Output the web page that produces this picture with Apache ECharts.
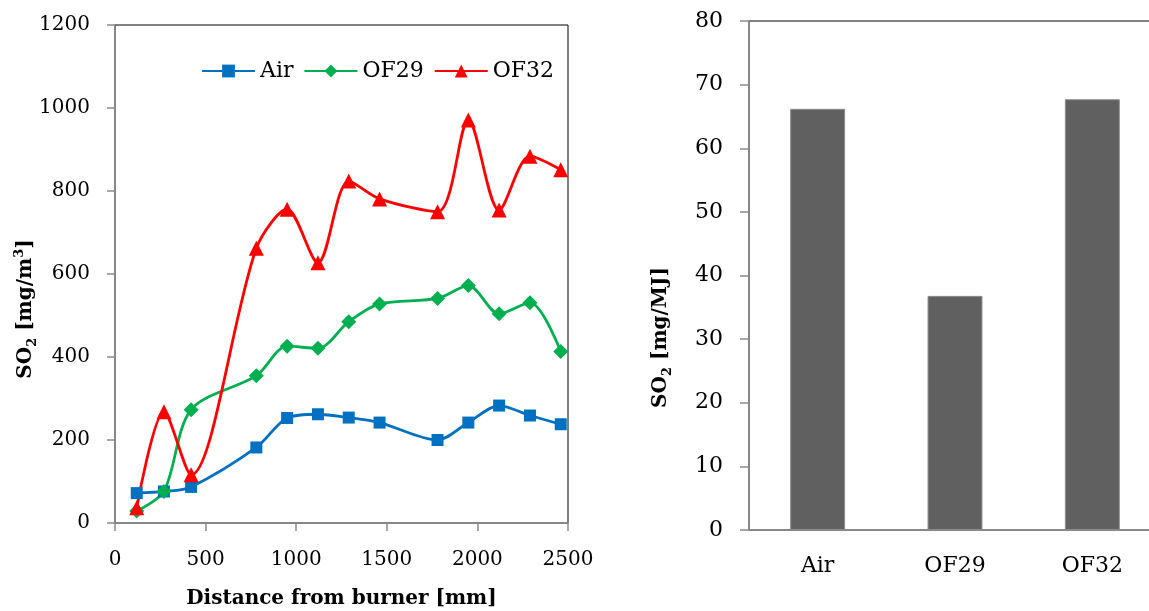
<!DOCTYPE html>
<html>
<head>
<meta charset="utf-8">
<script src="https://cdn.jsdelivr.net/npm/echarts@6/dist/echarts.min.js"></script>
<style>
html,body{margin:0;padding:0;background:#fff;}
#chart{width:1149px;height:611px;}
</style>
</head>
<body>
<div id="chart"></div>
<script>
// ---- data ----
var distances = [120, 270, 420, 780, 950, 1120, 1290, 1460, 1780, 1950, 2120, 2290, 2460];
var airSO2   = [72, 76, 87, 182, 253, 262, 254, 242, 200, 242, 283, 259, 238];
var of29SO2  = [29, 76, 273, 355, 426, 421, 485, 528, 541, 572, 504, 531, 413];
var of32SO2  = [37, 268, 116, 662, 756, 627, 824, 781, 750, 971, 754, 884, 851];
var seriesNames = ['Air', 'OF29', 'OF32'];
var barCategories = ['Air', 'OF29', 'OF32'];
var barValues = [66.2, 36.8, 67.7];

var FONT = 'DejaVu Serif';
var AXIS_GRAY = '#8a8a8a';

function pairs(xs, ys) { return xs.map(function (x, i) { return [x, ys[i]]; }); }
function plain(v) { return String(v); }

var chart = echarts.init(document.getElementById('chart'), null, {renderer: 'canvas'});

var lineCommon = {type: 'line', xAxisIndex: 0, yAxisIndex: 0, smooth: 0.3, lineStyle: {width: 2.8}};

var option = {
  animation: false,
  backgroundColor: '#fff',
  textStyle: {fontFamily: FONT},
  legend: {
    data: seriesNames,
    left: 196, top: 55,
    itemWidth: 53, itemHeight: 16, itemGap: 10,
    textStyle: {fontFamily: FONT, fontSize: 22, color: '#000'}
  },
  grid: [
    {left: 115, right: 581, top: 25, bottom: 88, containLabel: false, outerBoundsMode: 'none',
     show: true, borderColor: '#000', borderWidth: 1, backgroundColor: 'transparent'},
    {left: 749, right: -12, top: 21, bottom: 81, containLabel: false, outerBoundsMode: 'none',
     show: true, borderColor: '#000', borderWidth: 1, backgroundColor: 'transparent'}
  ],
  xAxis: [
    {
      type: 'value', gridIndex: 0, min: 0, max: 2500, interval: 500,
      name: 'Distance from burner [mm]', nameLocation: 'middle', nameGap: 66, nameMoveOverlap: false,
      nameTextStyle: {fontFamily: FONT, fontWeight: 'bold', fontSize: 20, color: '#000'},
      axisLine: {show: true, lineStyle: {color: AXIS_GRAY, width: 1.5}},
      axisTick: {show: true, inside: false, length: 8, lineStyle: {color: AXIS_GRAY, width: 1.5}},
      axisLabel: {fontFamily: FONT, fontSize: 20, color: '#000', margin: 27, formatter: plain},
      splitLine: {show: false}
    },
    {
      type: 'category', gridIndex: 1, data: barCategories,
      axisLine: {show: true, lineStyle: {color: AXIS_GRAY, width: 1.5}},
      axisTick: {show: false},
      axisLabel: {fontFamily: FONT, fontSize: 22, color: '#000', margin: 25},
      splitLine: {show: false}
    }
  ],
  yAxis: [
    {
      type: 'value', gridIndex: 0, min: 0, max: 1200, interval: 200,
      name: '{a|SO}{b|2}{a| [mg/m}{c|3}{a|]}', nameLocation: 'middle', nameGap: 76, nameMoveOverlap: false,
      nameTextStyle: {
        fontFamily: FONT, fontWeight: 'bold', fontSize: 20, color: '#000',
        padding: [0, 70, 0, 0],
        rich: {
          a: {fontFamily: FONT, fontWeight: 'bold', fontSize: 20, color: '#000', lineHeight: 26},
          b: {fontFamily: FONT, fontSize: 13, color: '#000', verticalAlign: 'bottom', lineHeight: 14},
          c: {fontFamily: FONT, fontSize: 13, color: '#000', verticalAlign: 'top', lineHeight: 14}
        }
      },
      axisLine: {show: true, lineStyle: {color: AXIS_GRAY, width: 1.5}},
      axisTick: {show: true, inside: false, length: 8, lineStyle: {color: AXIS_GRAY, width: 1.5}},
      axisLabel: {fontFamily: FONT, fontSize: 20, color: '#000', margin: 25, formatter: plain},
      splitLine: {show: false}
    },
    {
      type: 'value', gridIndex: 1, min: 0, max: 80, interval: 10,
      name: '{a|SO}{b|2}{a| [mg/MJ]}', nameLocation: 'middle', nameGap: 75, nameMoveOverlap: false,
      nameTextStyle: {
        fontFamily: FONT, fontWeight: 'bold', fontSize: 20, color: '#000',
        padding: [0, 124, 0, 0],
        rich: {
          a: {fontFamily: FONT, fontWeight: 'bold', fontSize: 20, color: '#000', lineHeight: 26},
          b: {fontFamily: FONT, fontSize: 13, color: '#000', verticalAlign: 'bottom', lineHeight: 14}
        }
      },
      axisLine: {show: true, lineStyle: {color: AXIS_GRAY, width: 1.5}},
      axisTick: {show: true, inside: false, length: 9, lineStyle: {color: AXIS_GRAY, width: 1.5}},
      axisLabel: {fontFamily: FONT, fontSize: 22, color: '#000', margin: 26, formatter: plain},
      splitLine: {show: false}
    }
  ],
  series: [
    Object.assign({}, lineCommon, {
      name: seriesNames[0], data: pairs(distances, airSO2),
      symbol: 'rect', symbolSize: 12,
      itemStyle: {color: '#0070C0'}, lineStyle: {width: 2.8, color: '#0070C0'}
    }),
    Object.assign({}, lineCommon, {
      name: seriesNames[1], data: pairs(distances, of29SO2),
      symbol: 'diamond', symbolSize: 15,
      itemStyle: {color: '#00B050'}, lineStyle: {width: 2.8, color: '#00B050'}
    }),
    Object.assign({}, lineCommon, {
      name: seriesNames[2], data: pairs(distances, of32SO2),
      symbol: 'triangle', symbolSize: 15,
      itemStyle: {color: '#FF0000'}, lineStyle: {width: 2.8, color: '#FF0000'}
    }),
    {
      type: 'bar', name: 'SO2 per MJ', xAxisIndex: 1, yAxisIndex: 1,
      data: barValues, barWidth: '40%',
      itemStyle: {color: '#606060', borderColor: '#8c8c8c', borderWidth: 1}
    }
  ]
};
chart.setOption(option);
</script>
</body>
</html>
